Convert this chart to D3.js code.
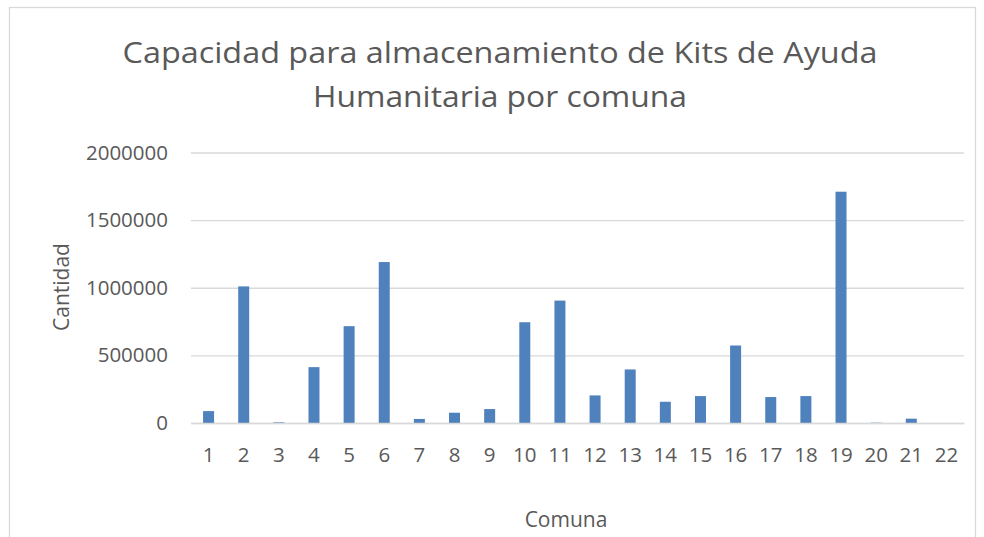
<!DOCTYPE html>
<html>
<head>
<meta charset="utf-8">
<script src="https://cdnjs.cloudflare.com/ajax/libs/d3/7.8.5/d3.min.js"></script>
<style>
  body { margin: 0; background: #fff; }
  svg text { font-family: "Open Sans", sans-serif; fill: #595959; }
</style>
</head>
<body>
<div id="chart"></div>
<script>
//Chart data
var comunas = ["1","2","3","4","5","6","7","8","9","10","11","12","13","14","15","16","17","18","19","20","21","22"];
var cantidad = [88000, 1010000, 5000, 413000, 716000, 1190000, 30000, 76000, 103000, 745000, 905000,
  204000, 396000, 157000, 199000, 573000, 192000, 199000, 1710000, 2000, 32000, 0];
var yTicks = [0, 500000, 1000000, 1500000, 2000000];
var titleLines = ["Capacidad para almacenamiento de Kits de Ayuda", "Humanitaria por comuna"];

//Setup SVG size vars
var W = 984, H = 537;
var plot = { left: 191, right: 964, top: 152.5, bottom: 423 };

var svg = d3.select("#chart")
  .append("svg")
  .attr("width", W)
  .attr("height", H);

//Chart border
svg.append("rect")
  .attr("x", 9.5)
  .attr("y", 7.5)
  .attr("width", 966)
  .attr("height", 560)
  .attr("fill", "none")
  .attr("stroke", "#d9d9d9")
  .attr("stroke-width", 1.3);

//Title (stretched a bit to match the original's wider face)
var titleWidths = [755, 374];
svg.selectAll(".title")
  .data(titleLines)
  .enter()
  .append("text")
  .attr("class", "title")
  .attr("x", 500)
  .attr("y", function(d, i) { return 63 + i * 44; })
  .attr("text-anchor", "middle")
  .attr("textLength", function(d, i) { return titleWidths[i]; })
  .attr("lengthAdjust", "spacingAndGlyphs")
  .style("font-size", "30px")
  .text(function(d) { return d; });

var x = d3.scaleBand()
  .domain(comunas)
  .range([plot.left, plot.right])
  .paddingInner(0.687)
  .paddingOuter(0.3435);

var y = d3.scaleLinear()
  .domain([0, 2000000])
  .range([plot.bottom, plot.top]);

//Gridlines + y labels
var yAxis = d3.axisLeft(y)
  .tickValues(yTicks)
  .tickSize(-(plot.right - plot.left))
  .tickPadding(23)
  .tickFormat(d3.format("d"));

var gy = svg.append("g")
  .attr("transform", "translate(" + plot.left + ",0)")
  .call(yAxis);
gy.select(".domain").remove();
gy.selectAll(".tick line").attr("stroke", "#d9d9d9").attr("stroke-width", 1.3);
gy.selectAll(".tick text")
  .style("font-size", "20.5px")
  .attr("fill", "#595959");

//Bars
svg.selectAll(".bar")
  .data(cantidad)
  .enter()
  .append("rect")
  .attr("class", "bar")
  .attr("x", function(d, i) { return x(comunas[i]); })
  .attr("width", x.bandwidth())
  .attr("y", function(d) { return y(d); })
  .attr("height", function(d) { return y(0) - y(d); })
  .attr("fill", "#4f81bd");

//X axis
var xAxis = d3.axisBottom(x).tickSize(0).tickPadding(24);
var gx = svg.append("g")
  .attr("transform", "translate(0," + plot.bottom + ")")
  .call(xAxis);
gx.select(".domain").attr("stroke", "#d9d9d9").attr("stroke-width", 1.3);
gx.selectAll(".tick text")
  .style("font-size", "20.5px")
  .attr("fill", "#595959");

//Axis titles
svg.append("text")
  .attr("x", 566)
  .attr("y", 527)
  .attr("text-anchor", "middle")
  .style("font-size", "21px")
  .text("Comuna");

svg.append("text")
  .attr("transform", "translate(69,287) rotate(-90)")
  .attr("text-anchor", "middle")
  .style("font-size", "21px")
  .text("Cantidad");
</script>
</body>
</html>
